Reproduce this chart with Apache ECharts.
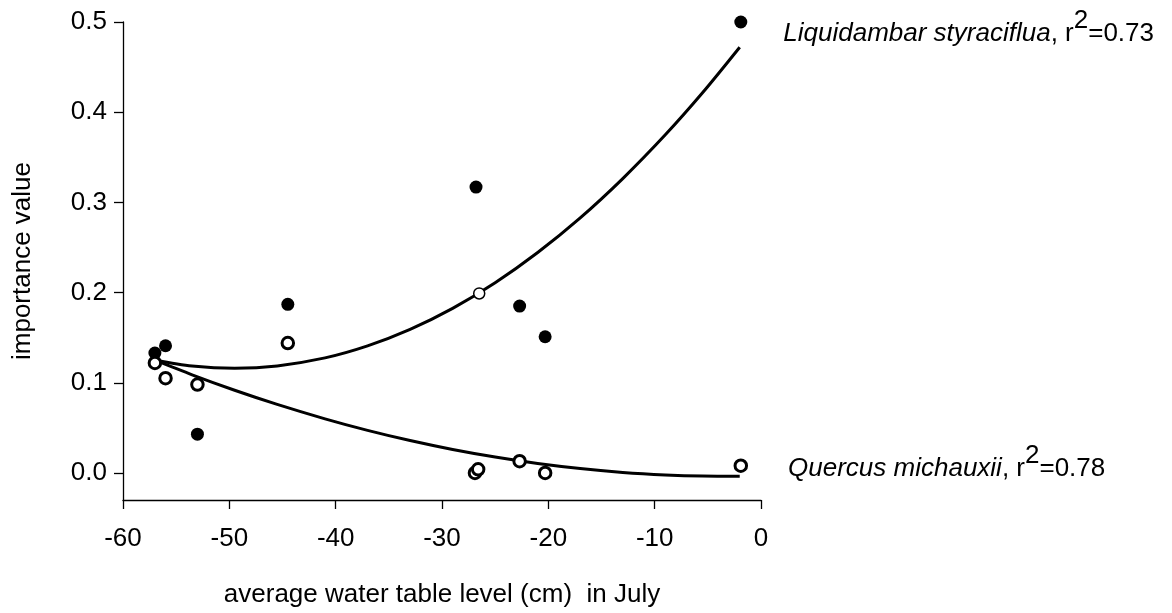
<!DOCTYPE html>
<html>
<head>
<meta charset="utf-8">
<script src="https://cdn.jsdelivr.net/npm/echarts@6/dist/echarts.min.js"></script>
<style>
html,body{margin:0;padding:0;background:#fff;}
#chart{width:1172px;height:613px;}
</style>
</head>
<body>
<div id="chart"></div>
<script>
// ---- data ----
const xTicks = [-60, -50, -40, -30, -20, -10, 0];
const yTicks = [0.0, 0.1, 0.2, 0.3, 0.4, 0.5];

// Liquidambar styraciflua (filled circles)
const liqX = [-57.0, -56.0, -53.0, -44.5, -26.8, -22.7, -20.3, -1.9];
const liqY = [0.133, 0.141, 0.043, 0.187, 0.317, 0.185, 0.151, 0.500];
// thin open circle lying on the Liquidambar curve
const liqOpenX = [-26.5];
const liqOpenY = [0.199];

// Quercus michauxii (open circles)
const querX = [-57.0, -56.0, -53.0, -44.5, -26.9, -26.6, -22.7, -20.3, -1.9];
const querY = [0.122, 0.105, 0.098, 0.144, 0.000, 0.004, 0.013, 0.000, 0.008];

// fitted curves
const curveX = [-57, -53.5, -49.5, -45.5, -41, -37, -33, -29, -25, -21, -17, -13, -9, -5.5, -2];
const liqCurveY = [0.1250, 0.1186, 0.1161, 0.1187, 0.1276, 0.1409, 0.1592, 0.1825, 0.2109, 0.2444, 0.2828, 0.3264, 0.3749, 0.4215, 0.4720];
const querCurveY = [0.1250, 0.1088, 0.0917, 0.0760, 0.0600, 0.0472, 0.0359, 0.0260, 0.0176, 0.0105, 0.0049, 0.0006, -0.0022, -0.0035, -0.0037];

const liqLabel = ['Liquidambar styraciflua', '0.73'];
const querLabel = ['Quercus michauxii', '0.78'];

const zip = (xs, ys) => xs.map((x, i) => [x, ys[i]]);
const FONT = 'Liberation Sans, Arial, sans-serif';
const FS = 26;

function richLabel(parts) {
  return '{it|' + parts[0] + '}{n|, r}{sup|2}{n|=' + parts[1] + '}';
}
const rich = {
  it: {fontStyle: 'italic', fontSize: FS, fontFamily: FONT, color: '#000', verticalAlign: 'bottom'},
  n: {fontSize: FS, fontFamily: FONT, color: '#000', verticalAlign: 'bottom'},
  sup: {fontSize: FS, fontFamily: FONT, color: '#000', padding: [0, 0, 13, 0], verticalAlign: 'bottom'}
};

const chart = echarts.init(document.getElementById('chart'), null, {renderer: 'canvas'});
const lastIdx = (arr) => arr.length - 1;

chart.setOption({
  animation: false,
  backgroundColor: '#fff',
  grid: {left: 123, right: 411, top: 22, bottom: 111},
  xAxis: {
    type: 'value', min: xTicks[0], max: xTicks[xTicks.length - 1], interval: 10,
    splitLine: {show: false},
    axisLine: {onZero: false, lineStyle: {color: '#000', width: 1.3}},
    axisTick: {show: true, length: 9, inside: false, lineStyle: {color: '#000', width: 1.3}},
    axisLabel: {color: '#000', fontSize: FS, fontFamily: FONT, margin: 26},
    name: 'average water table level (cm)  in July',
    nameLocation: 'middle', nameGap: 82,
    nameTextStyle: {color: '#000', fontSize: FS, fontFamily: FONT}
  },
  yAxis: {
    type: 'value', min: -0.03, max: 0.5,
    splitLine: {show: false},
    axisLine: {onZero: false, lineStyle: {color: '#000', width: 1.3}},
    axisTick: {show: true, length: 9, customValues: yTicks, lineStyle: {color: '#000', width: 1.3}},
    axisLabel: {color: '#000', fontSize: FS, fontFamily: FONT, margin: 16,
      customValues: yTicks, formatter: (v) => v.toFixed(1)},
    name: 'importance value',
    nameLocation: 'middle', nameGap: 87,
    nameTextStyle: {color: '#000', fontSize: FS, fontFamily: FONT}
  },
  series: [
    {
      type: 'line', data: zip(curveX, liqCurveY), smooth: 0.3, showSymbol: false,
      lineStyle: {color: '#000', width: 3, join: 'round'}, z: 2, silent: true
    },
    {
      type: 'line', data: zip(curveX, querCurveY), smooth: 0.3, showSymbol: false,
      lineStyle: {color: '#000', width: 3, join: 'round'}, z: 2, silent: true
    },
    {
      type: 'scatter', data: zip(liqX, liqY), symbol: 'circle', symbolSize: 13,
      itemStyle: {color: '#000', opacity: 1}, z: 3,
      label: {
        show: true, position: 'right', distance: 36, offset: [0, 5], color: '#000',
        formatter: (p) => p.dataIndex === lastIdx(liqX) ? richLabel(liqLabel) : '',
        rich: rich
      }
    },
    {
      type: 'scatter', data: zip(liqOpenX, liqOpenY), symbol: 'circle', symbolSize: 11,
      itemStyle: {color: '#fff', borderColor: '#000', borderWidth: 1.5, opacity: 1}, z: 4
    },
    {
      type: 'scatter', data: zip(querX, querY), symbol: 'circle', symbolSize: 11.5,
      itemStyle: {color: '#fff', borderColor: '#000', borderWidth: 3, opacity: 1}, z: 4,
      label: {
        show: true, position: 'right', distance: 40, offset: [0, -3], color: '#000',
        formatter: (p) => p.dataIndex === lastIdx(querX) ? richLabel(querLabel) : '',
        rich: rich
      }
    }
  ]
});
</script>
</body>
</html>
